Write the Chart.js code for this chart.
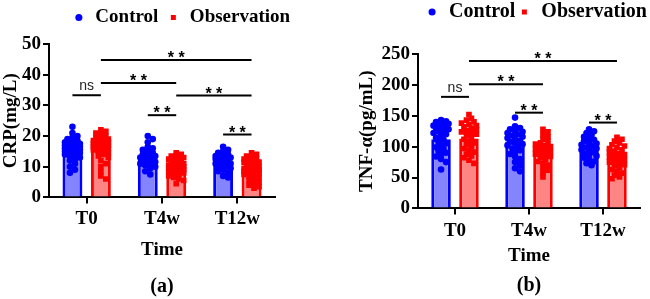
<!DOCTYPE html>
<html>
<head>
<meta charset="utf-8">
<script src="https://cdn.jsdelivr.net/npm/chart.js"></script>
<style>
html, body { margin: 0; padding: 0; background: #fff; overflow: hidden; }
#wrap { position: relative; width: 650px; height: 299px; overflow: hidden; }
canvas { position: absolute; top: 0; }
</style>
</head>
<body>
<div id="wrap">
  <canvas id="chartA" width="362" height="299" style="left:0"></canvas>
  <canvas id="chartB" width="422" height="299" style="left:325px"></canvas>
</div>
<script>
// ---- data ----
const timePoints = ['T0', 'T4w', 'T12w'];
const groupNames = ['Control', 'Observation'];

// (a) CRP (mg/L): bar heights (means) and individual points
const crpControlMean = [15.3, 12.8, 12.0];
const crpObsMean = [16.1, 10.0, 9.2];
const crpControlT0 = [23, 21, 20, 19.5, 19, 18.5, 18.5, 18, 18, 17.5, 17.5, 17, 17, 16.5, 16.5, 16, 16, 15.5, 15.5, 15, 15, 14.5, 14.5, 14, 14, 13.5, 13, 12.5, 12, 11, 10, 9, 8];
const crpControlT4 = [20, 19, 18, 16.5, 16, 15.5, 15, 14.5, 14, 14, 13.5, 13.5, 13, 13, 12.5, 12.5, 12, 12, 11.5, 11.5, 11, 11, 10.5, 10, 9.5, 8.5, 7.5];
const crpControlT12 = [16.5, 15.5, 15, 14.5, 14, 13.5, 13.5, 13, 13, 12.5, 12.5, 12, 12, 12, 11.5, 11.5, 11, 11, 10.5, 10.5, 10, 10, 9.5, 9, 8.5, 8, 7, 6.5];
const crpObsT0 = [22, 21.5, 21, 20.5, 20, 19.5, 19, 19, 18.5, 18.5, 18, 18, 17.5, 17.5, 17, 17, 16.5, 16.5, 16, 16, 15.5, 15.5, 15, 14.5, 14, 13.5, 13, 12, 11, 10, 8.5, 7, 6];
const crpObsT4 = [14.5, 14, 13.5, 13.5, 13, 13, 12.5, 12.5, 12, 12, 11.5, 11.5, 11, 11, 10.5, 10.5, 10, 10, 9.5, 9.5, 9, 9, 8.5, 8.5, 8, 8, 7.5, 7, 6.5, 6, 5.5, 4.5];
const crpObsT12 = [14.5, 14, 13.5, 13, 12.5, 12.5, 12, 12, 11.5, 11.5, 11, 11, 10.5, 10.5, 10, 10, 9.5, 9.5, 9, 9, 8.5, 8.5, 8, 8, 7.5, 7.5, 7, 6.5, 6, 5.5, 5, 4.5, 4, 3.5, 3];

// (b) TNF-alpha (pg/mL)
const tnfControlMean = [112, 108.5, 100];
const tnfObsMean = [113, 93.5, 85];
const tnfControlT0 = [143, 141, 140, 138, 137, 135, 134, 132, 131, 130, 128, 126, 124, 122, 120, 117, 114, 111, 108, 105, 102, 99, 96, 93, 90, 87, 84, 80, 75, 63];
const tnfControlT4 = [147, 133, 130, 128, 126, 124, 122, 120, 118, 116, 114, 112, 110, 108, 106, 104, 102, 100, 97, 94, 91, 88, 84, 80, 75, 70, 65, 60];
const tnfControlT12 = [128, 125, 122, 119, 116, 113, 111, 109, 107, 105, 103, 101, 99, 97, 95, 93, 91, 89, 87, 85, 82, 79, 76, 73, 70];
const tnfObsT0 = [152, 146, 143, 140, 138, 136, 134, 132, 130, 128, 126, 124, 122, 120, 118, 115, 112, 109, 106, 103, 100, 97, 94, 91, 88, 85, 82, 78, 73];
const tnfObsT4 = [128, 124, 120, 116, 112, 109, 106, 104, 102, 100, 98, 96, 94, 92, 90, 88, 86, 84, 82, 79, 76, 73, 70, 66, 62, 58, 51];
const tnfObsT12 = [115, 112, 109, 106, 103, 101, 99, 97, 95, 93, 91, 89, 87, 85, 83, 81, 79, 77, 75, 73, 71, 69, 66, 63, 60, 57, 54, 51, 48];

// significance brackets: bar indices (0..5 = T0 ctrl, T0 obs, T4w ctrl, ...), height, label
const crpSigFrom = [0, 1, 1, 2, 3, 4];
const crpSigTo = [1, 3, 5, 3, 5, 5];
const crpSigY = [33.3, 37.3, 44.8, 26.8, 33.2, 20.5];
const crpSigText = ['ns', '**', '**', '**', '**', '**'];

const tnfSigFrom = [0, 1, 1, 2, 4];
const tnfSigTo = [1, 3, 5, 3, 5];
const tnfSigY = [180.6, 201, 238.7, 155, 139];
const tnfSigText = ['ns', '**', '**', '**', '**'];

// ---- helpers ----
const BLUE = '#0000ff';
const RED = '#ff0000';
const serif = 'Liberation Serif';
const CAT_PCT = 0.755, BAR_PCT = 0.7;

// simple beeswarm: spreads points sideways so they don't pile up (approx px scale)
function swarm(values, centre, pxPerX, pxPerY) {
    const placed = [];
    const dia = 4, step = 2.5;
    return values.map(v => {
        const py = v * pxPerY;
        let bestOff = 0, bestGap = -1;
        for (let k = 0; k < 7; k++) {
            const off = (k % 2 ? 1 : -1) * Math.ceil(k / 2) * step;
            let gap = Infinity;
            placed.forEach(p => {
                gap = Math.min(gap, Math.hypot(p[0] - off, p[1] - py));
            });
            if (gap >= dia) { bestOff = off; bestGap = gap; break; }
            if (gap > bestGap) { bestGap = gap; bestOff = off; }
        }
        placed.push([bestOff, py]);
        return { x: centre + bestOff / pxPerX, y: v };
    });
}

// points sit over their bar: bar slot centre is +-CAT_PCT/4 of a category
function pointsFor(groups, side, pxPerX, pxPerY) {
    let out = [];
    groups.forEach((vals, i) => {
        out = out.concat(swarm(vals, i + side * CAT_PCT / 4, pxPerX, pxPerY));
    });
    return out;
}

const sigPlugin = {
    id: 'sig',
    afterDatasetsDraw(chart, args, opts) {
        const ctx = chart.ctx;
        const y = chart.scales.y;
        const barX = b => chart.getDatasetMeta(b % 2).data[Math.floor(b / 2)].x;
        ctx.save();
        opts.from.forEach((f, i) => {
            const x1 = barX(f), x2 = barX(opts.to[i]);
            const py = y.getPixelForValue(opts.y[i]);
            ctx.strokeStyle = '#000';
            ctx.lineWidth = 2;
            ctx.beginPath();
            ctx.moveTo(x1, py);
            ctx.lineTo(x2, py);
            ctx.stroke();
            ctx.textAlign = 'center';
            ctx.textBaseline = 'alphabetic';
            if (opts.text[i] === 'ns') {
                ctx.font = '14px "Liberation Sans"';
                ctx.fillStyle = '#222';
                ctx.fillText('ns', (x1 + x2) / 2, py - 5);
            } else {
                ctx.font = 'bold 16px "Liberation Sans"';
                ctx.fillStyle = '#000';
                ctx.fillText('* *', (x1 + x2) / 2, py + 3);
            }
        });
        ctx.restore();
    }
};

// make room between the legend and the plot
const legendGap = {
    id: 'legendGap',
    beforeInit(chart) {
        const fit = chart.legend.fit;
        chart.legend.fit = function () {
            fit.bind(chart.legend)();
            this.height += chart.options.plugins.legendGap.extra;
        };
    }
};

function makeChart(id, cfg) {
    const axisFont = { family: serif, size: 19, weight: 'bold' };
    const barOpts = { borderWidth: 3, categoryPercentage: CAT_PCT, barPercentage: BAR_PCT, order: 2 };
    const dotOpts = { type: 'line', showLine: false, parsing: false, borderWidth: 0, order: 1 };
    return new Chart(document.getElementById(id), {
        type: 'bar',
        data: {
            labels: timePoints,
            datasets: [
                Object.assign({ label: groupNames[0], data: cfg.ctrlMean, backgroundColor: '#8484ff', borderColor: BLUE }, barOpts),
                Object.assign({ label: groupNames[1], data: cfg.obsMean, backgroundColor: '#ff8484', borderColor: RED }, barOpts),
                Object.assign({ data: cfg.ctrlPts, backgroundColor: BLUE, borderColor: BLUE, pointStyle: 'circle', pointRadius: 3.3 }, dotOpts),
                Object.assign({ data: cfg.obsPts, backgroundColor: RED, borderColor: RED, pointStyle: 'rect', pointRadius: 4 }, dotOpts)
            ]
        },
        options: {
            responsive: false,
            animation: false,
            layout: { padding: 0 },
            scales: {
                x: {
                    grid: { display: true, drawOnChartArea: false, offset: false, color: '#000', lineWidth: 2, tickLength: 6 },
                    border: { color: '#000', width: 2 },
                    ticks: { color: '#000', font: axisFont, padding: cfg.tickPad },
                    title: { display: true, text: 'Time', color: '#000', font: axisFont, padding: cfg.xTitlePad }
                },
                y: {
                    min: 0, max: cfg.yMax,
                    grid: { display: true, drawOnChartArea: false, color: '#000', lineWidth: 2, tickLength: 6 },
                    border: { color: '#000', width: 2 },
                    ticks: { stepSize: cfg.yStep, color: '#000', font: axisFont, padding: 2 },
                    title: { display: true, text: cfg.yTitle, color: '#000', font: axisFont, padding: { top: cfg.yTitlePad, bottom: 0 } },
                    afterFit: s => { s.width = cfg.left; }
                },
                yr: {
                    type: 'linear', position: 'right', display: true,
                    grid: { display: false, drawTicks: false }, border: { display: false }, ticks: { display: false },
                    afterFit: s => { s.width = cfg.right; }
                }
            },
            plugins: {
                tooltip: { enabled: false },
                legend: {
                    position: 'top',
                    labels: {
                        usePointStyle: true, boxWidth: 14, boxHeight: 5, padding: cfg.legendPad,
                        color: '#000', font: { family: serif, size: cfg.legendSize, weight: 'bold' },
                        generateLabels: () => [
                            { text: groupNames[0], fillStyle: BLUE, strokeStyle: BLUE, lineWidth: 0, pointStyle: 'circle', datasetIndex: 0 },
                            { text: groupNames[1], fillStyle: RED, strokeStyle: RED, lineWidth: 0, pointStyle: 'rect', datasetIndex: 1 }
                        ]
                    }
                },
                legendGap: { extra: cfg.legendGap },
                title: {
                    display: true, position: 'bottom', fullSize: false, text: cfg.panel, color: '#000',
                    font: { family: serif, size: 20, weight: 'bold' }, padding: cfg.panelPad
                },
                sig: { from: cfg.sigFrom, to: cfg.sigTo, y: cfg.sigY, text: cfg.sigText }
            }
        },
        plugins: [sigPlugin, legendGap]
    });
}

makeChart('chartA', {
    ctrlMean: crpControlMean, obsMean: crpObsMean,
    ctrlPts: pointsFor([crpControlT0, crpControlT4, crpControlT12], -1, 75.7, 3.1),
    obsPts: pointsFor([crpObsT0, crpObsT4, crpObsT12], 1, 75.7, 3.1),
    yMax: 50, yStep: 10, yTitle: 'CRP(mg/L)', yTitlePad: 0,
    left: 49, right: 87, tickPad: 4, xTitlePad: { top: 4, bottom: 1 },
    legendPad: 8, legendSize: 19, legendGap: 7, panel: '(a)', panelPad: { top: 13, bottom: 0 },
    sigFrom: crpSigFrom, sigTo: crpSigTo, sigY: crpSigY, sigText: crpSigText
});

makeChart('chartB', {
    ctrlMean: tnfControlMean, obsMean: tnfObsMean,
    ctrlPts: pointsFor([tnfControlT0, tnfControlT4, tnfControlT12], -1, 74, 0.62),
    obsPts: pointsFor([tnfObsT0, tnfObsT4, tnfObsT12], 1, 74, 0.62),
    yMax: 250, yStep: 50, yTitle: 'TNF-α(pg/mL)', yTitlePad: 31,
    left: 93, right: 107, tickPad: 5, xTitlePad: { top: -3, bottom: 0 },
    legendPad: 2, legendSize: 20, legendGap: 22, panel: '(b)', panelPad: { top: 7, bottom: 1 },
    sigFrom: tnfSigFrom, sigTo: tnfSigTo, sigY: tnfSigY, sigText: tnfSigText
});
</script>
</body>
</html>
